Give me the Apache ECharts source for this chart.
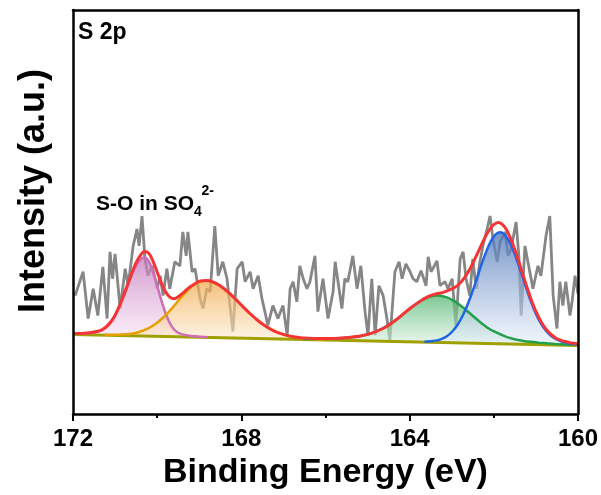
<!DOCTYPE html>
<html>
<head>
<meta charset="utf-8">
<script src="https://cdn.jsdelivr.net/npm/echarts@6/dist/echarts.min.js"></script>
<style>html,body{margin:0;padding:0;background:#fff}#c{width:601px;height:495px}</style>
</head>
<body>
<div id="c"></div>
<script>
// Raw S 2p spectrum: [binding energy (eV), intensity (a.u.)]
const rawData = [[171.95,119],[171.76,143],[171.64,96],[171.52,126],[171.41,99],[171.29,148],[171.19,96],[171.12,163],[171.06,136],[171.00,161],[170.88,106],[170.76,146],[170.69,129],[170.57,169],[170.48,186],[170.43,169],[170.36,199],[170.29,156],[170.22,139],[170.12,149],[170.00,126],[169.93,139],[169.86,119],[169.77,146],[169.70,126],[169.58,153],[169.46,149],[169.39,183],[169.31,159],[169.27,183],[169.17,143],[169.10,146],[168.98,116],[168.91,106],[168.82,126],[168.74,123],[168.63,189],[168.55,139],[168.44,153],[168.34,136],[168.27,109],[168.20,83],[168.10,146],[167.98,153],[167.91,133],[167.79,143],[167.72,126],[167.60,139],[167.51,116],[167.44,103],[167.37,89],[167.25,109],[167.13,96],[167.01,109],[166.91,79],[166.84,126],[166.77,133],[166.68,113],[166.61,149],[166.53,136],[166.44,126],[166.37,133],[166.25,159],[166.18,103],[166.06,136],[165.94,96],[165.82,123],[165.77,153],[165.61,106],[165.54,136],[165.47,133],[165.35,159],[165.25,126],[165.16,149],[165.06,103],[164.99,79],[164.90,136],[164.82,79],[164.73,129],[164.63,119],[164.54,96],[164.47,74],[164.35,143],[164.25,153],[164.18,136],[164.09,151],[163.99,143],[163.92,136],[163.83,133],[163.73,144],[163.61,129],[163.56,158],[163.49,143],[163.35,154],[163.28,129],[163.16,133],[163.09,126],[162.99,136],[162.90,89],[162.80,156],[162.73,163],[162.66,136],[162.57,119],[162.50,156],[162.42,126],[162.33,153],[162.26,169],[162.16,186],[162.09,199],[162.02,176],[161.92,153],[161.85,173],[161.73,183],[161.66,159],[161.59,166],[161.47,193],[161.40,156],[161.35,99],[161.26,169],[161.19,153],[161.07,126],[160.95,149],[160.88,139],[160.76,179],[160.67,199],[160.59,119],[160.50,86],[160.43,133],[160.36,109],[160.29,133],[160.19,99],[160.14,113],[160.07,139],[160.00,121]];

// Fitted component: S-O in SO4 2- (high BE)
const pinkFit = [[171.8,80.8],[171.7,81.1],[171.6,81.5],[171.5,82.0],[171.4,82.9],[171.3,84.6],[171.2,87.6],[171.1,92.3],[171.0,98.8],[170.9,107.5],[170.8,117.8],[170.7,129.0],[170.6,139.9],[170.5,149.1],[170.4,155.3],[170.3,157.4],[170.2,153.6],[170.1,143.3],[170.0,129.1],[169.9,114.3],[169.8,101.3],[169.7,91.5],[169.6,85.0],[169.5,81.7],[169.4,80.1],[169.3,79.2],[169.2,78.5],[169.0,77.8],[168.8,77.2]];

// Fitted component: orange
const orangeFit = [[171.25,79.7],[171.05,79.7],[170.85,79.9],[170.65,80.5],[170.45,82.2],[170.25,85.3],[170.05,90.2],[169.85,97.3],[169.65,106.3],[169.45,116.3],[169.25,125.4],[169.05,131.9],[168.85,134.1],[168.65,132.2],[168.45,127.3],[168.25,120.2],[168.05,111.8],[167.85,103.3],[167.65,95.5],[167.45,89.1],[167.25,84.1],[167.05,80.6],[166.85,78.2],[166.65,76.7],[166.45,75.7],[166.25,75.1],[166.05,74.8]];

// Fitted component: green
const greenFit = [[166.53,75.5],[166.33,75.5],[166.13,75.6],[165.93,75.8],[165.73,76.2],[165.53,76.7],[165.33,77.5],[165.13,78.7],[164.93,81.0],[164.73,84.3],[164.53,88.7],[164.33,94.5],[164.13,101.3],[163.93,108.1],[163.73,113.9],[163.53,117.8],[163.33,119.1],[163.13,117.5],[162.93,113.2],[162.73,107.0],[162.53,99.8],[162.33,92.6],[162.13,86.3],[161.93,81.8],[161.73,78.1],[161.53,75.4],[161.33,73.8],[161.13,72.6],[160.93,71.8],[160.73,71.1],[160.53,70.5],[160.33,70.0],[160.13,69.6]];

// Fitted component: blue
const blueFit = [[163.65,72.7],[163.55,72.9],[163.45,73.4],[163.35,74.1],[163.25,75.4],[163.15,77.4],[163.05,80.4],[162.95,84.7],[162.85,90.5],[162.75,98.0],[162.65,107.3],[162.55,118.1],[162.45,130.3],[162.35,143.0],[162.25,155.4],[162.15,166.4],[162.05,175.2],[161.95,180.8],[161.85,182.7],[161.75,180.6],[161.65,174.8],[161.55,165.8],[161.45,154.6],[161.35,142.0],[161.25,129.2],[161.15,116.9],[161.05,105.9],[160.95,96.4],[160.85,89.0],[160.75,83.2],[160.65,79.0],[160.55,76.0],[160.45,73.9],[160.35,72.4],[160.25,71.4],[160.15,70.6],[160.05,70.1],[160.0,69.8]];

// Sum of fitted components (envelope)
const envelopeFit = [[172.0,80.9],[171.8,81.0],[171.7,81.4],[171.6,81.8],[171.5,82.4],[171.4,83.3],[171.3,85.0],[171.2,88.1],[171.1,92.8],[171.0,99.4],[170.9,108.3],[170.8,118.9],[170.7,130.4],[170.6,142.0],[170.5,152.1],[170.4,159.5],[170.3,163.3],[170.2,161.5],[170.1,153.8],[170.0,142.7],[169.9,131.6],[169.8,122.8],[169.7,117.6],[169.6,116.0],[169.5,117.8],[169.4,121.2],[169.3,125.0],[169.2,128.4],[169.0,133.4],[168.8,134.3],[168.6,131.3],[168.4,125.7],[168.2,118.1],[168.0,109.6],[167.8,101.3],[167.6,93.8],[167.4,87.7],[167.2,83.1],[167.0,80.1],[166.8,78.0],[166.6,76.8],[166.4,76.2],[166.2,75.9],[166.0,75.9],[165.8,76.0],[165.6,76.4],[165.4,77.2],[165.2,78.2],[165.0,80.1],[164.8,82.9],[164.6,86.7],[164.4,92.3],[164.2,98.9],[164.0,105.9],[163.8,112.0],[163.6,117.3],[163.4,120.5],[163.2,122.3],[163.0,125.7],[162.9,128.1],[162.8,131.8],[162.7,136.9],[162.6,143.5],[162.5,151.5],[162.4,160.4],[162.3,169.6],[162.2,178.3],[162.1,185.3],[162.0,190.3],[161.9,192.5],[161.8,190.7],[161.7,185.3],[161.6,176.3],[161.5,165.2],[161.4,152.4],[161.3,139.0],[161.2,125.9],[161.1,113.7],[161.0,103.3],[160.9,94.6],[160.8,87.6],[160.7,82.5],[160.6,78.7],[160.5,75.7],[160.4,74.1],[160.3,72.9],[160.2,71.8],[160.1,71.1],[160.0,70.6]];

// Linear background
const baselineFit = [[172,80],[160,69]];

const FONT = '"Liberation Sans", Arial, sans-serif';

function grad(top, bottom, frac) {
  return new echarts.graphic.LinearGradient(0, 0, 0, 1, [
    {offset: 0, color: top},
    {offset: frac, color: bottom},
    {offset: 1, color: bottom}
  ]);
}

const comps = [
  {data: pinkFit, line: '#cf6db5', top: 'rgba(196,118,188,0.72)', bot: 'rgba(246,222,242,0.6)', frac: 0.5},
  {data: orangeFit, line: '#e6a000', top: 'rgba(240,168,70,0.72)', bot: 'rgba(252,232,204,0.6)', frac: 0.43},
  {data: greenFit, line: '#22a04a', top: 'rgba(76,178,106,0.72)', bot: 'rgba(214,240,220,0.6)', frac: 0.4},
  {data: blueFit, line: '#1e66e6', top: 'rgba(74,114,182,0.75)', bot: 'rgba(226,236,248,0.6)', frac: 0.6}
];

const series = [];
series.push({type: 'line', data: rawData, showSymbol: false, z: 1,
  lineStyle: {color: '#868686', width: 2.8}, emphasis: {disabled: true}});
comps.forEach(c => series.push({type: 'line', data: c.data, showSymbol: false, smooth: 0.3, z: 2,
  lineStyle: {width: 0}, areaStyle: {color: grad(c.top, c.bot, c.frac), opacity: 1}, emphasis: {disabled: true}}));
series.push({type: 'line', data: baselineFit, showSymbol: false, z: 3,
  lineStyle: {color: '#a0a000', width: 3}, areaStyle: {color: '#ffffff', opacity: 1}, emphasis: {disabled: true}});
comps.forEach(c => series.push({type: 'line', data: c.data, showSymbol: false, smooth: 0.3, z: 4,
  lineStyle: {color: c.line, width: 2.5}, emphasis: {disabled: true}}));
series.push({type: 'line', data: envelopeFit, showSymbol: false, smooth: 0.3, z: 5,
  lineStyle: {color: '#f53535', width: 3}, emphasis: {disabled: true}});

const chart = echarts.init(document.getElementById('c'), null, {renderer: 'canvas'});
chart.setOption({
  animation: false,
  backgroundColor: '#fff',
  grid: {left: 73, right: 23, top: 10, bottom: 79},
  xAxis: [{
    type: 'value', min: 160, max: 172, interval: 4, inverse: true, z: 10,
    axisLine: {show: true, lineStyle: {color: '#000', width: 2.5}},
    axisTick: {show: true, inside: false, length: 7, lineStyle: {color: '#000', width: 2}},
    minorTick: {show: true, splitNumber: 2, length: 4, lineStyle: {color: '#000', width: 2}},
    splitLine: {show: false},
    axisLabel: {color: '#000', fontSize: 24, fontWeight: 'bold', fontFamily: FONT, margin: 13},
    name: 'Binding Energy (eV)', nameLocation: 'middle', nameGap: 40,
    nameTextStyle: {color: '#000', fontSize: 34, fontWeight: 'bold', fontFamily: FONT}
  }, {
    type: 'value', min: 160, max: 172, inverse: true, position: 'top', z: 10,
    axisLine: {show: true, onZero: false, lineStyle: {color: '#000', width: 2.5}},
    axisTick: {show: false}, axisLabel: {show: false}, splitLine: {show: false}
  }],
  yAxis: [{
    type: 'value', min: 0, max: 406, z: 10,
    axisLine: {show: true, onZero: false, lineStyle: {color: '#000', width: 2.5}},
    axisTick: {show: false}, axisLabel: {show: false}, splitLine: {show: false}
  }, {
    type: 'value', min: 0, max: 406, position: 'right', z: 10,
    axisLine: {show: true, onZero: false, lineStyle: {color: '#000', width: 2.5}},
    axisTick: {show: false}, axisLabel: {show: false}, splitLine: {show: false}
  }],
  graphic: [
    {type: 'text', x: 34, y: 191, rotation: Math.PI / 2, z: 20,
      style: {text: 'Intensity (a.u.)', fill: '#000', fontSize: 36, fontWeight: 'bold', fontFamily: FONT, align: 'center', verticalAlign: 'middle'}},
    {type: 'text', x: 78, y: 32.5, z: 20,
      style: {text: 'S 2p', fill: '#000', fontSize: 23, fontWeight: 'bold', fontFamily: FONT, align: 'left', verticalAlign: 'middle'}},
    {type: 'text', x: 96, y: 204, z: 20,
      style: {text: 'S-O in SO', fill: '#000', fontSize: 21, fontWeight: 'bold', fontFamily: FONT, align: 'left', verticalAlign: 'middle'}},
    {type: 'text', x: 194, y: 212, z: 20,
      style: {text: '4', fill: '#000', fontSize: 14, fontWeight: 'bold', fontFamily: FONT, align: 'left', verticalAlign: 'middle'}},
    {type: 'text', x: 201.5, y: 191, z: 20,
      style: {text: '2-', fill: '#000', fontSize: 14, fontWeight: 'bold', fontFamily: FONT, align: 'left', verticalAlign: 'middle'}}
  ],
  series: series
});
</script>
</body>
</html>
